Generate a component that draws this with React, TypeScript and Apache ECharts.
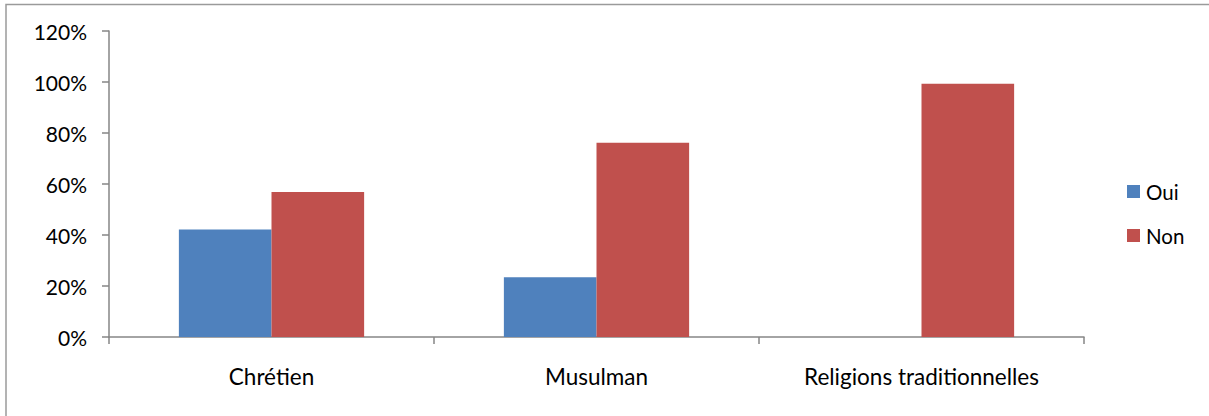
import React, { useEffect, useRef } from "react";
import * as echarts from "echarts";

const categories = ["Chrétien", "Musulman", "Religions traditionnelles"];
const seriesNames = ["Oui", "Non"];
const ouiValues = [42.2, 23.4, 0];
const nonValues = [56.9, 76.2, 99.3];
const yTicks = [0, 20, 40, 60, 80, 100, 120];

const FONT = "Lato, 'Open Sans', sans-serif";

export default function App() {
  const ref = useRef<HTMLDivElement>(null);
  useEffect(() => {
    if (!ref.current) return;
    const chart = echarts.init(ref.current, undefined, { renderer: "svg" });
    chart.setOption({
      animation: false,
      backgroundColor: "#ffffff",
      textStyle: { fontFamily: FONT },
      graphic: [
        {
          type: "rect",
          shape: { x: 6, y: 4.5, width: 1230, height: 430 },
          style: { fill: "none", stroke: "#9a9a9a", lineWidth: 1.5 },
          silent: true,
          z: -10,
        },
      ],
      legend: {
        orient: "vertical",
        left: 1122,
        top: 176,
        itemWidth: 13,
        itemHeight: 13,
        itemGap: 23,
        icon: "rect",
        data: seriesNames,
        textStyle: {
          fontFamily: FONT,
          fontSize: 20.5,
          lineHeight: 21,
          color: "#000000",
          padding: [0, 0, 0, 1],
        },
      },
      grid: { left: 109, right: 125, top: 31, bottom: 79, containLabel: false },
      xAxis: {
        type: "category",
        data: categories,
        axisLine: { lineStyle: { color: "#868686", width: 1.5 } },
        axisTick: { show: true, length: 7, alignWithLabel: false, lineStyle: { color: "#868686", width: 1.5 } },
        axisLabel: { fontFamily: FONT, fontSize: 22.5, color: "#000000", margin: 28 },
        splitLine: { show: false },
      },
      yAxis: {
        type: "value",
        min: 0,
        max: 120,
        interval: 20,
        axisLine: { show: true, lineStyle: { color: "#868686", width: 1.5 } },
        axisTick: { show: true, length: 7, lineStyle: { color: "#868686", width: 1.5 } },
        splitLine: { show: false },
        axisLabel: {
          fontFamily: FONT,
          fontSize: 21,
          color: "#000000",
          margin: 22,
          formatter: (v: number) => (yTicks.includes(v) ? `${v}%` : ""),
        },
      },
      series: [
        {
          name: seriesNames[0],
          type: "bar",
          data: ouiValues,
          barGap: "0%",
          barCategoryGap: "43%",
          itemStyle: { color: "#4f81bd" },
        },
        {
          name: seriesNames[1],
          type: "bar",
          data: nonValues,
          barGap: "0%",
          barCategoryGap: "43%",
          itemStyle: { color: "#c0504d" },
        },
      ],
    });
    return () => chart.dispose();
  }, []);
  return (
    <div
      ref={ref}
      style={{ position: "absolute", left: 0, top: 0, width: 1209, height: 416 }}
    />
  );
}
